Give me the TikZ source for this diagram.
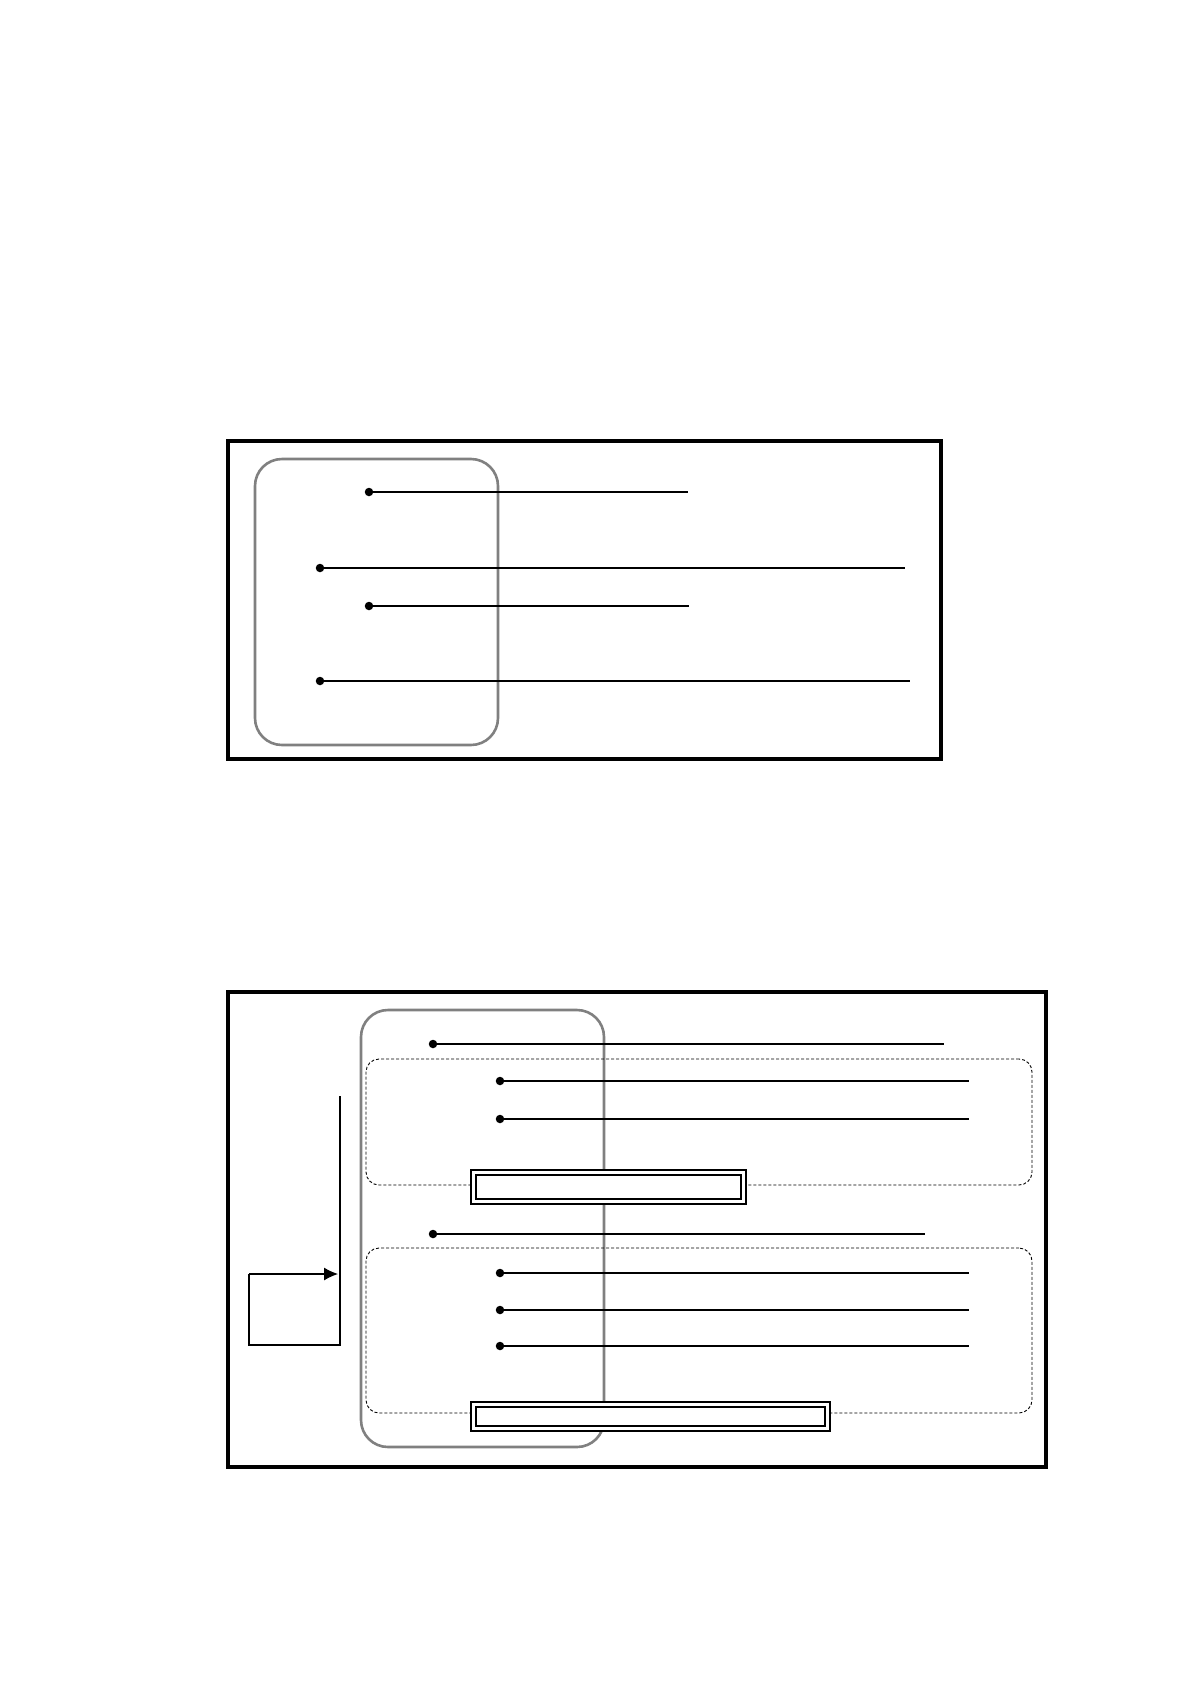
\documentclass[tikz,border=0pt]{standalone}
\usetikzlibrary{positioning, arrows.meta}

\begin{document}
\begin{tikzpicture}[x=1pt,y=-1pt,
  frame/.style={draw,rectangle,line width=3.2pt,inner sep=0pt},
  group/.style={draw=gray,rectangle,line width=2.6pt,rounded corners=27pt,inner sep=0pt},
  part/.style={draw,rectangle,dash pattern=on 3pt off 2pt,line width=0.9pt,rounded corners=13pt,inner sep=0pt},
  outerbox/.style={draw,rectangle,fill=white,line width=1.1pt,inner sep=0pt},
  innerbox/.style={draw,rectangle,line width=2.8pt,inner sep=0pt},
  dot/.style={circle,fill,inner sep=0pt,minimum size=8.5pt},
  lead/.style={line width=1.1pt},
  boldlead/.style={line width=2.7pt}]
\useasboundingbox (0,0) rectangle (1190,1684);

% upper picture
\node[frame,minimum width=713pt,minimum height=318pt] (top) at (584.5,600) {};
\node[group,minimum width=243pt,minimum height=286pt] (topgroup) at (376.5,602) {};

\node[dot] (t1) at (369,492) {};
\node[dot] (t2) at (320,568) {};
\node[dot] (t3) at (369,606) {};
\node[dot] (t4) at (320,681) {};
\coordinate (t1e) at (688,492);
\coordinate (t2e) at (905,568);
\coordinate (t3e) at (689,606);
\coordinate (t4e) at (910,681);

\draw[boldlead] (t1.center) -- (t1e);
\draw[lead] (t2.center) -- (t2e);
\draw[boldlead] (t3.center) -- (t3e);
\draw[lead] (t4.center) -- (t4e);

% lower picture
\node[frame,minimum width=818pt,minimum height=475pt] (bottom) at (637,1229.5) {};
\node[group,minimum width=243pt,minimum height=437pt] (botgroup) at (482.5,1228.5) {};
\node[part,minimum width=666pt,minimum height=126pt] (partA) at (699,1122) {};
\node[part,minimum width=666pt,minimum height=165pt] (partB) at (699,1330.5) {};

\node[dot] (a) at (433,1044) {};
\node[dot] (a1) at (500,1081) {};
\node[dot] (a2) at (500,1119) {};
\node[dot] (b) at (433,1234) {};
\node[dot] (b1) at (500,1273) {};
\node[dot] (b2) at (500,1310) {};
\node[dot] (b3) at (500,1346) {};
\coordinate (ae) at (944,1044);
\coordinate (a1e) at (969,1081);
\coordinate (a2e) at (969,1119);
\coordinate (be) at (925,1234);
\coordinate (b1e) at (969,1273);
\coordinate (b2e) at (969,1310);
\coordinate (b3e) at (969,1346);

\draw[lead] (a.center) -- (ae);
\draw[boldlead] (a1.center) -- (a1e);
\draw[lead] (a2.center) -- (a2e);
\draw[boldlead] (b.center) -- (be);
\draw[lead] (b1.center) -- (b1e);
\draw[lead] (b2.center) -- (b2e);
\draw[lead] (b3.center) -- (b3e);

% double boxes
\node[outerbox,minimum width=275pt,minimum height=34pt] (sumA) at (608.5,1187) {};
\node[innerbox,minimum width=265pt,minimum height=24pt] at (sumA) {};
\node[outerbox,minimum width=359pt,minimum height=29pt] (sumB) at (650.5,1416.5) {};
\node[innerbox,minimum width=349pt,minimum height=19pt] at (sumB) {};

% loop back arrow
\coordinate (up) at (340,1096);
\coordinate (low) at (340,1345);
\coordinate (lowleft) at (249,1345);
\coordinate (midleft) at (249,1274);
\coordinate (tip) at (338,1274);
\draw[lead] (up) -- (low) -- (lowleft) -- (midleft);
\draw[lead,-{Latex[length=14pt,width=13pt]}] (midleft) -- (tip);
\end{tikzpicture}
\end{document}
